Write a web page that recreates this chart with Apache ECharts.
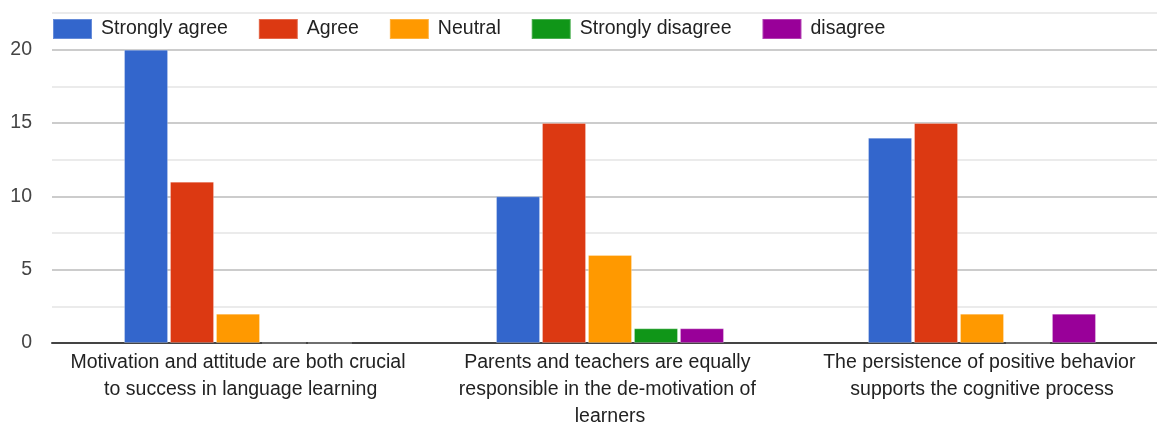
<!DOCTYPE html>
<html>
<head>
<meta charset="utf-8">
<script src="https://cdn.jsdelivr.net/npm/echarts@6/dist/echarts.min.js"></script>
<style>
  html, body { margin: 0; padding: 0; background: #fff; }
  #chart { width: 1157px; height: 423px; }
</style>
</head>
<body>
<div id="chart"></div>
<script>
// Survey statements (x categories)
const categories = [
  'Motivation and attitude are both crucial to success in language learning',
  'Parents and teachers are equally responsible in the de-motivation of learners',
  'The persistence of positive behavior supports the cognitive process'
];

// Response counts per statement
const stronglyAgree    = [20, 10, 14];
const agree            = [11, 15, 15];
const neutral          = [2, 6, 2];
const stronglyDisagree = [0, 1, 0];
const disagreeVals     = [0, 1, 2];

const seriesNames  = ['Strongly agree', 'Agree', 'Neutral', 'Strongly disagree', 'disagree'];
const seriesData   = [stronglyAgree, agree, neutral, stronglyDisagree, disagreeVals];
const seriesColors = ['#3366cc', '#dc3912', '#ff9900', '#109618', '#990099'];

const FONT = '"Liberation Sans", Arial, sans-serif';

const chart = echarts.init(document.getElementById('chart'), null, { renderer: 'canvas' });

chart.setOption({
  animation: false,
  backgroundColor: '#ffffff',
  color: seriesColors,
  textStyle: { fontFamily: FONT },
  legend: {
    left: 47,
    top: 13,
    itemWidth: 39,
    itemHeight: 20,
    itemGap: 30,
    icon: 'rect',
    textStyle: { fontSize: 19.5, color: '#222', fontFamily: FONT, padding: [0, 0, 0, 4] },
    data: seriesNames
  },
  // plot area runs past the right edge of the canvas
  grid: { left: 52, top: 13, width: 1116, bottom: 80, containLabel: false, outerBoundsMode: 'none' },
  xAxis: {
    type: 'category',
    data: categories,
    axisTick: { show: false },
    axisLine: { lineStyle: { color: '#444', width: 2 } },
    axisLabel: {
      interval: 0,
      margin: 6,
      width: 340,
      overflow: 'break',
      lineHeight: 27,
      fontSize: 19.5,
      color: '#222',
      fontFamily: FONT
    }
  },
  yAxis: {
    type: 'value',
    min: 0,
    max: 22.5,
    interval: 2.5,
    axisLine: { show: false },
    axisTick: { show: false },
    axisLabel: {
      margin: 20,
      fontSize: 19.5,
      color: '#444',
      fontFamily: FONT,
      formatter: v => (v % 5 === 0 ? String(v) : '')
    },
    splitLine: { lineStyle: { color: ['#cccccc', '#ebebeb'], width: 2 } }
  },
  series: seriesNames.map((name, i) => ({
    name,
    type: 'bar',
    data: seriesData[i],
    barWidth: 44,
    barGap: '4.5%',
    itemStyle: { color: seriesColors[i], borderColor: 'rgba(255,255,255,0.25)', borderWidth: 1 }
  }))
});
</script>
</body>
</html>
